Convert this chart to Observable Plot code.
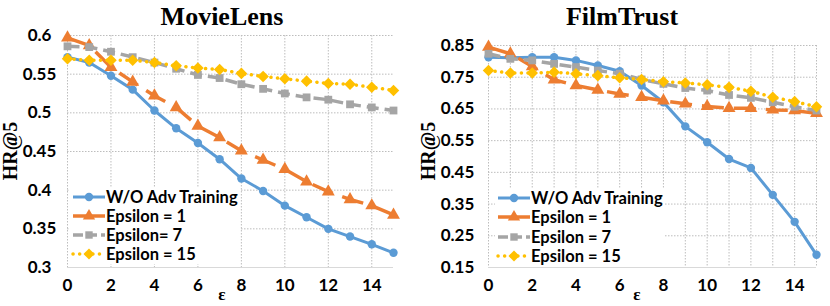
<!DOCTYPE html>
<html><head><meta charset="utf-8">
<script src="https://cdn.jsdelivr.net/npm/d3@7"></script>
<script src="https://cdn.jsdelivr.net/npm/@observablehq/plot@0.6"></script>
<style>
body{margin:0;background:#fff;}
#wrap{display:flex;width:830px;height:306px;}
</style></head>
<body><div id="wrap"></div>
<script>
const eps = [0,1,2,3,4,5,6,7,8,9,10,11,12,13,14,15];
const seriesNames = ["W/O Adv Training","Epsilon = 1","Epsilon= 7","Epsilon = 15"];
const seriesNamesFT = ["W/O Adv Training","Epsilon = 1","Epsilon = 7","Epsilon = 15"];

// MovieLens
const mlWO  = [0.572,0.565,0.548,0.530,0.503,0.480,0.461,0.440,0.415,0.399,0.380,0.365,0.350,0.340,0.330,0.319];
const mlE1  = [0.597,0.587,0.559,0.540,0.522,0.507,0.483,0.468,0.451,0.439,0.427,0.411,0.398,0.388,0.380,0.368];
const mlE7  = [0.586,0.585,0.579,0.572,0.565,0.557,0.549,0.545,0.537,0.531,0.525,0.520,0.517,0.511,0.507,0.503];
const mlE15 = [0.570,0.568,0.568,0.568,0.565,0.561,0.558,0.556,0.551,0.547,0.544,0.541,0.538,0.537,0.533,0.529];
// FilmTrust
const ftWO  = [0.813,0.811,0.813,0.813,0.803,0.787,0.769,0.724,0.671,0.595,0.545,0.492,0.464,0.379,0.294,0.190];
const ftE1  = [0.845,0.824,0.784,0.742,0.724,0.710,0.697,0.687,0.676,0.666,0.658,0.652,0.652,0.647,0.645,0.636];
const ftE7  = [0.824,0.808,0.803,0.792,0.782,0.771,0.761,0.743,0.729,0.716,0.708,0.694,0.685,0.671,0.657,0.645];
const ftE15 = [0.771,0.763,0.763,0.766,0.761,0.755,0.748,0.743,0.736,0.732,0.726,0.718,0.706,0.687,0.673,0.657];

const mlYTicks = [0.3,0.35,0.4,0.45,0.5,0.55,0.6];
const ftYTicks = [0.15,0.25,0.35,0.45,0.55,0.65,0.75,0.85];
const xTicks = [0,2,4,6,8,10,12,14];

const styles = [
  {color:"#5B9BD5", dash:null, symbol:"circle", r:4.2, w:3},
  {color:"#ED7D31", dash:"22,10", symbol:"triangle", r:4.8, w:3.5},
  {color:"#A5A5A5", dash:"12,6", symbol:"square", r:4.4, w:3.5},
  {color:"#FFC000", dash:"0.1,6.5", symbol:"diamond2", r:5.2, w:3.5, cap:"round"}
];

const sans = "Lato, 'Open Sans', sans-serif";
const serif = "'Liberation Serif', 'DejaVu Serif', serif";

function panel(cfg){
  const series = cfg.values.map((vals,i)=>eps.map((e,j)=>({x:e,y:vals[j],s:i})));
  const marks = [
    Plot.gridX(cfg.gridX, {stroke:"#bdbdbd", strokeOpacity:1, strokeWidth:1, strokeDasharray:"1.5,1.5"}),
    Plot.gridY(cfg.yTicks, {stroke:"#bdbdbd", strokeOpacity:1, strokeWidth:1, strokeDasharray:"1.5,1.5"}),
    Plot.ruleY([cfg.yDomain[0]], {stroke:"#d9d9d9", strokeWidth:1.2}),
    Plot.axisX(xTicks, {tickSize:0, tickPadding:11, fontSize:17, fontWeight:"bold", fontFamily:sans, fill:"#000", label:null}),
    Plot.axisY(cfg.yTicks, {tickSize:0, tickPadding:cfg.yPad, textAnchor:"middle", fontSize:17, fontWeight:"bold", fontFamily:sans, fill:"#000", label:null, tickFormat:d=>String(d)})
  ];
  series.forEach((d,i)=>{
    const st = styles[i];
    marks.push(Plot.line(d, {x:"x", y:"y", stroke:st.color, strokeWidth:st.w, strokeDasharray:st.dash, strokeLinecap:st.cap||"butt", curve:"linear"}));
    marks.push(Plot.dot(d, {x:"x", y:"y", symbol:()=>st.symbol, fill:st.color, stroke:"none", r:st.r}));
  });
  const svg = Plot.plot({
    width:415, height:306,
    marginTop:cfg.mt, marginBottom:39, marginLeft:cfg.ml, marginRight:cfg.mr,
    x:{domain:[0,15]},
    y:{domain:cfg.yDomain},
    symbol:{type:"identity"},
    style:{fontFamily:sans, background:"#fff", overflow:"visible"},
    marks
  });
  const s = d3.select(svg);
  // title
  s.append("text").attr("x",cfg.titleX).attr("y",25).attr("text-anchor","middle")
    .attr("font-family",serif).attr("font-weight","bold").attr("font-size",26).attr("fill","#000").text(cfg.title);
  // y label
  s.append("text").attr("transform",`translate(${cfg.ylabX},151) rotate(-90)`).attr("text-anchor","middle")
    .attr("dominant-baseline","middle").attr("font-family",serif).attr("font-weight","bold").attr("font-size",20).attr("fill","#000").text("HR@5");
  // x label
  s.append("text").attr("x",cfg.epsX).attr("y",300).attr("text-anchor","middle")
    .attr("font-family",serif).attr("font-weight","bold").attr("font-size",17).attr("fill","#000").text("ε");
  // legend
  const lg = s.append("g").attr("text-anchor","start");
  const names = cfg.names;
  lg.append("rect").attr("x",cfg.lgX-3).attr("y",cfg.lgY[0]-10).attr("width",170).attr("height",cfg.lgY[3]-cfg.lgY[0]+20).attr("fill","#fff");
  names.forEach((n,i)=>{
    const st = styles[i], y = cfg.lgY[i], x0 = cfg.lgX, x1 = cfg.lgX+32;
    lg.append("line").attr("x1",x0).attr("x2",x1).attr("y1",y).attr("y2",y)
      .attr("stroke",st.color).attr("stroke-width",st.w)
      .attr("stroke-dasharray", i===1? null : (i===2? "10,4" : st.dash))
      .attr("stroke-linecap",st.cap||"butt");
    lg.append("path").attr("transform",`translate(${(x0+x1)/2},${y})`)
      .attr("d", d3.symbol().type({circle:d3.symbolCircle,triangle:d3.symbolTriangle,square:d3.symbolSquare,diamond2:d3.symbolDiamond2}[st.symbol]).size(Math.PI*st.r*st.r*(st.symbol==="circle"?1:0.9))())
      .attr("fill",st.color);
    lg.append("text").attr("x",x1+1).attr("y",y).attr("dy","0.35em").attr("text-anchor","start")
      .attr("font-family",sans).attr("font-weight","bold").attr("font-size",16.5).attr("fill","#000").text(n);
  });
  return svg;
}

const wrap = document.getElementById("wrap");
wrap.appendChild(panel({
  title:"MovieLens", values:[mlWO,mlE1,mlE7,mlE15], names:seriesNames,
  yDomain:[0.3,0.6], yTicks:mlYTicks, gridX:xTicks,
  mt:35, ml:67, mr:22, yPad:28, titleX:222, epsX:222, ylabX:12,
  lgX:73, lgY:[197,216,235,254]
}));
wrap.appendChild(panel({
  title:"FilmTrust", values:[ftWO,ftE1,ftE7,ftE15], names:seriesNamesFT,
  yDomain:[0.15,0.85], yTicks:ftYTicks, gridX:eps,
  mt:45, ml:73, mr:14, yPad:31, titleX:207, epsX:222, ylabX:15,
  lgX:83, lgY:[198,217,237,256]
}));
</script></body></html>
